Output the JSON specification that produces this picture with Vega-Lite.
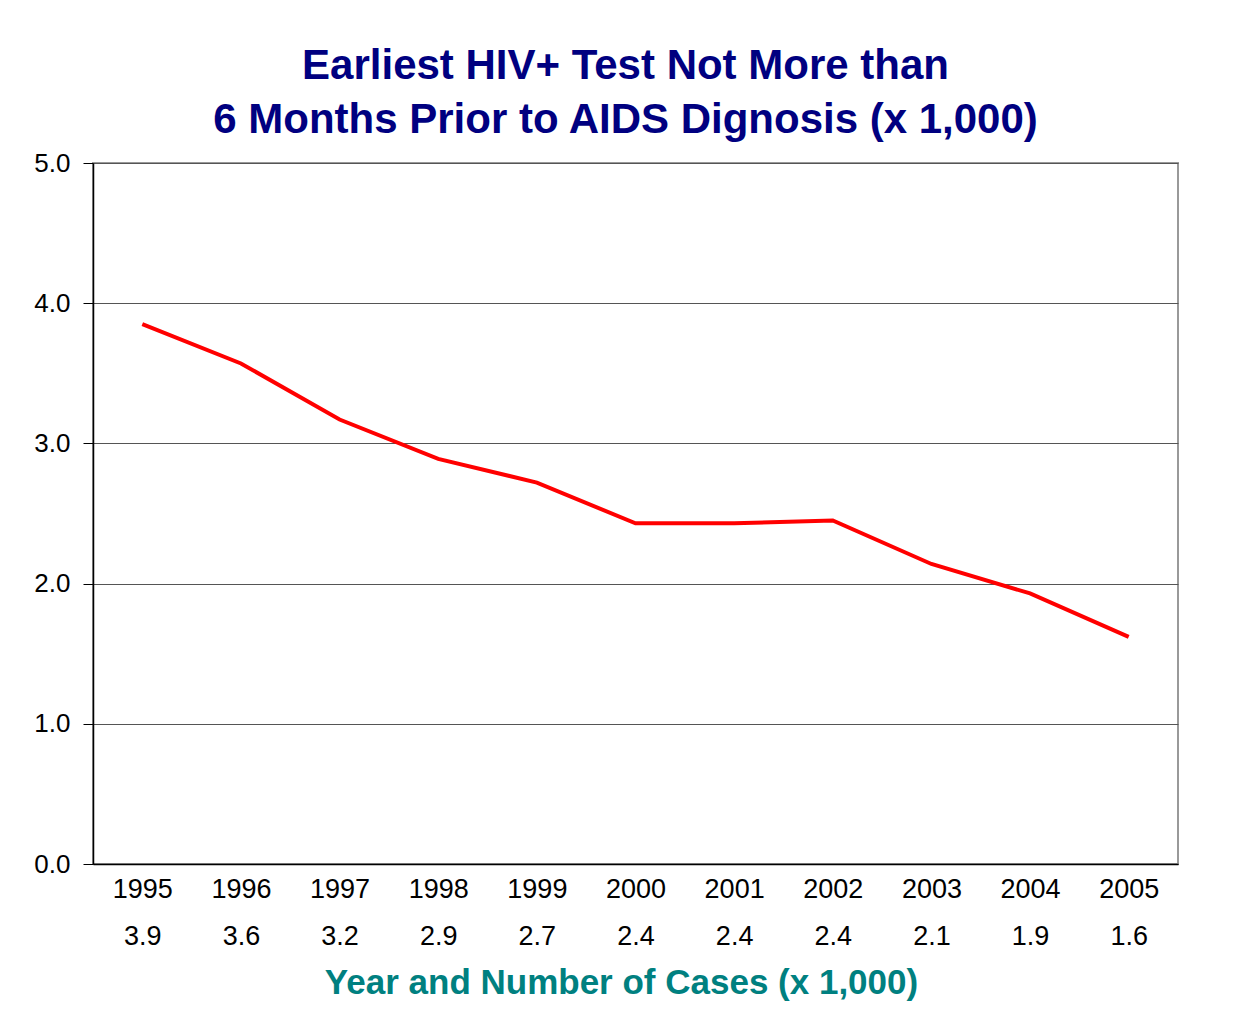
{
  "$schema": "https://vega.github.io/schema/vega-lite/v6.json",
  "width": 1085,
  "height": 701,
  "autosize": "none",
  "padding": {"left": 93, "top": 163, "right": 60, "bottom": 158},
  "background": "white",
  "title": {
    "text": ["Earliest HIV+ Test Not More than", "6 Months Prior to AIDS Dignosis (x 1,000)"],
    "font": "Liberation Sans",
    "fontSize": 42,
    "fontWeight": "bold",
    "color": "#000080",
    "lineHeight": 54,
    "anchor": "middle",
    "frame": "group",
    "dx": -10,
    "offset": 8
  },
  "data": {
    "values": [
      {"cat": "1995|3.9", "cases": 3.85},
      {"cat": "1996|3.6", "cases": 3.57},
      {"cat": "1997|3.2", "cases": 3.17},
      {"cat": "1998|2.9", "cases": 2.89},
      {"cat": "1999|2.7", "cases": 2.72},
      {"cat": "2000|2.4", "cases": 2.43},
      {"cat": "2001|2.4", "cases": 2.43},
      {"cat": "2002|2.4", "cases": 2.45},
      {"cat": "2003|2.1", "cases": 2.14},
      {"cat": "2004|1.9", "cases": 1.93},
      {"cat": "2005|1.6", "cases": 1.62}
    ]
  },
  "mark": {"type": "line", "color": "#FF0000", "strokeWidth": 4},
  "encoding": {
    "x": {
      "field": "cat",
      "type": "ordinal",
      "sort": null,
      "scale": {"type": "point", "padding": 0.5},
      "axis": {
        "title": "Year and Number of Cases (x 1,000)",
        "titleFont": "Liberation Sans",
        "titleFontSize": 35,
        "titleFontWeight": "bold",
        "titleColor": "#008080",
        "titlePadding": 16,
        "titleX": 528,
        "titleAlign": "center",
        "labelExpr": "split(datum.label, '|')",
        "labelFont": "Liberation Sans",
        "labelFontSize": 27,
        "labelColor": "black",
        "labelLineHeight": 47,
        "labelPadding": 12,
        "labelAngle": 0,
        "ticks": false,
        "domain": true,
        "domainColor": "black",
        "domainWidth": 1.5,
        "grid": false
      }
    },
    "y": {
      "field": "cases",
      "type": "quantitative",
      "scale": {"domain": [0, 5]},
      "axis": {
        "title": null,
        "values": [0, 1, 2, 3, 4, 5],
        "format": ".1f",
        "labelFont": "Liberation Sans",
        "labelFontSize": 26,
        "labelColor": "black",
        "labelPadding": 13,
        "tickSize": 10,
        "tickColor": "black",
        "domainColor": "black",
        "domainWidth": 1.5,
        "grid": true,
        "gridColor": "#555555",
        "gridWidth": 1
      }
    }
  },
  "config": {
    "view": {"stroke": "#999999", "strokeWidth": 2}
  }
}
